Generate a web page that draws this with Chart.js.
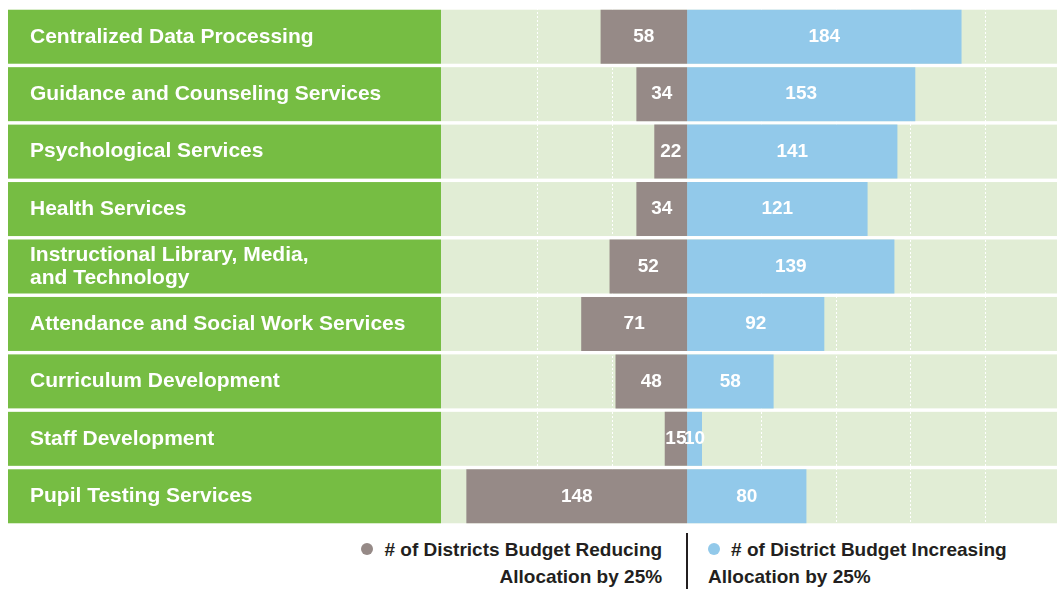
<!DOCTYPE html>
<html lang="en">
<head>
  <meta charset="UTF-8">
  <title>District Budget Allocation Changes</title>
  <script src="https://cdn.jsdelivr.net/npm/chart.js@4.4.1/dist/chart.umd.min.js"></script>
  <style>
    html, body {
      margin: 0;
      padding: 0;
      background: #fff;
    }
    body {
      width: 1057px;
      height: 589px;
      position: relative;
      overflow: hidden;
      font-family: "Liberation Sans", Arial, sans-serif;
    }
    .chart-box {
      position: absolute;
      left: 0;
      top: 0;
      width: 1057px;
      height: 528px;
    }
    .legend {
      position: absolute;
      top: 536px;
      font-weight: bold;
      font-size: 19px;
      line-height: 27px;
      color: #231f20;
    }
    .legend .dot {
      display: inline-block;
      width: 12px;
      height: 12px;
      border-radius: 50%;
      margin-right: 11px;
      vertical-align: 1px;
    }
    #legLeft { text-align: right; }
    #legRight { text-align: left; }
    #divider {
      position: absolute;
      top: 533px;
      width: 2px;
      height: 56px;
      background: #231f20;
    }
  </style>
</head>
<body>
  <div class="chart-box">
    <canvas id="budgetChart"></canvas>
  </div>
  <div id="legLeft" class="legend">
    <span class="dot" style="background:#968a87"></span># of Districts Budget Reducing<br>Allocation by 25%
  </div>
  <div id="divider"></div>
  <div id="legRight" class="legend">
    <span class="dot" style="background:#92c9ea"></span># of District Budget Increasing<br>Allocation by 25%
  </div>

  <script>
    const services = [
      'Centralized Data Processing',
      'Guidance and Counseling Services',
      'Psychological Services',
      'Health Services',
      ['Instructional Library, Media,', 'and Technology'],
      'Attendance and Social Work Services',
      'Curriculum Development',
      'Staff Development',
      'Pupil Testing Services'
    ];
    const reducing = [58, 34, 22, 34, 52, 71, 48, 15, 148];
    const increasing = [184, 153, 141, 121, 139, 92, 58, 10, 80];

    const GREEN = '#76bd43';
    const PALE = '#e1edd5';
    const GREY = '#968a87';
    const BLUE = '#92c9ea';

    // green label panel + pale plot band behind every row
    const rowBands = {
      id: 'rowBands',
      beforeDraw(chart) {
        const ctx = chart.ctx;
        const area = chart.chartArea;
        const bars = chart.getDatasetMeta(0).data;
        ctx.save();
        bars.forEach(bar => {
          const h = bar.height;
          const top = bar.y - h / 2;
          ctx.fillStyle = GREEN;
          ctx.fillRect(8, top, area.left - 8, h);
          ctx.fillStyle = PALE;
          ctx.fillRect(area.left, top, area.right - area.left, h);
        });
        ctx.restore();
      }
    };

    // value numbers centred in each bar
    const barValues = {
      id: 'barValues',
      afterDatasetsDraw(chart) {
        const ctx = chart.ctx;
        ctx.save();
        ctx.fillStyle = '#fff';
        ctx.font = 'bold 19px "Liberation Sans", Arial, sans-serif';
        ctx.textAlign = 'center';
        ctx.textBaseline = 'middle';
        chart.data.datasets.forEach((ds, di) => {
          chart.getDatasetMeta(di).data.forEach((bar, i) => {
            const v = Math.abs(ds.data[i]);
            ctx.fillText(String(v), (bar.x + bar.base) / 2, bar.y);
          });
        });
        ctx.restore();
      }
    };

    const chart = new Chart(document.getElementById('budgetChart'), {
      type: 'bar',
      data: {
        labels: services,
        datasets: [
          {
            label: '# of Districts Budget Reducing Allocation by 25%',
            data: reducing.map(v => -v),
            backgroundColor: GREY
          },
          {
            label: '# of District Budget Increasing Allocation by 25%',
            data: increasing,
            backgroundColor: BLUE
          }
        ]
      },
      options: {
        indexAxis: 'y',
        responsive: true,
        maintainAspectRatio: false,
        animation: false,
        layout: { padding: { left: 30, top: 8, right: 0, bottom: 3 } },
        datasets: {
          bar: { categoryPercentage: 1, barPercentage: 0.94, borderWidth: 0 }
        },
        plugins: {
          legend: { display: false },
          tooltip: { enabled: false }
        },
        scales: {
          x: {
            stacked: true,
            min: -165,
            max: 248,
            afterBuildTicks(axis) {
              axis.ticks = axis.ticks.filter(t => t.value % 50 === 0 && t.value !== 0);
            },
            afterFit(axis) { axis.height = 0; },
            ticks: { display: false, stepSize: 50 },
            grid: {
              color: '#ffffff',
              lineWidth: 1,
              drawTicks: false
            },
            border: { display: false, dash: [2, 2] }
          },
          y: {
            stacked: true,
            afterFit(axis) {
              axis.width = 411;
              axis.paddingTop = 0;
              axis.paddingBottom = 0;
            },
            grid: { display: false },
            border: { display: false },
            ticks: {
              color: '#ffffff',
              crossAlign: 'far',
              padding: 0,
              font: { family: '"Liberation Sans", Arial, sans-serif', weight: 'bold', size: 21, lineHeight: 1.12 }
            }
          }
        }
      },
      plugins: [rowBands, barValues]
    });

    // legend sits either side of the zero line
    const zeroX = chart.scales.x.getPixelForValue(0);
    document.getElementById('divider').style.left = (zeroX - 1) + 'px';
    const legLeft = document.getElementById('legLeft');
    legLeft.style.right = (1057 - zeroX + 25) + 'px';
    document.getElementById('legRight').style.left = (zeroX + 21) + 'px';
  </script>
</body>
</html>
